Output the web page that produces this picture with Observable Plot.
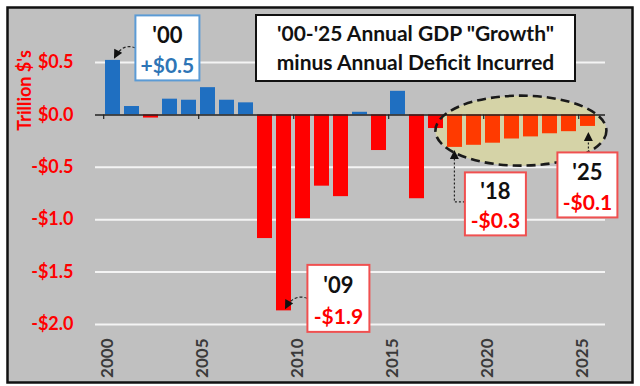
<!DOCTYPE html>
<html><head><meta charset="utf-8">
<script src="https://cdn.jsdelivr.net/npm/d3@7"></script>
<script src="https://cdn.jsdelivr.net/npm/@observablehq/plot@0.6"></script>
<style>html,body{margin:0;padding:0;background:#fff}</style>
</head><body><div id="chart"></div>
<script>
// ---- data ----
const years = [2000,2001,2002,2003,2004,2005,2006,2007,2008,2009,2010,2011,2012,2013,2014,2015,2016,2017,2018,2019,2020,2021,2022,2023,2024,2025];
const values = [0.52,0.08,-0.03,0.15,0.14,0.26,0.14,0.115,-1.18,-1.87,-0.99,-0.68,-0.78,0.025,-0.34,0.225,-0.80,-0.13,-0.31,-0.29,-0.27,-0.23,-0.21,-0.18,-0.16,-0.11];
const highlightYears = [2018,2019,2020,2021,2022,2023,2024,2025];
const yTicks = [0.5,0,-0.5,-1,-1.5,-2];
const xTickYears = [2000,2005,2010,2015,2020,2025];
const titleLines = [`'00-'25 Annual GDP "Growth"`, "minus Annual Deficit Incurred"];
const yLabel = "Trillion $'s";
const calloutYears = [2000,2009,2018,2025];
const calloutLabels = ["'00","'09","'18","'25"];
const calloutAmounts = ["+$0.5","-$1.9","-$0.3","-$0.1"];

// ---- styling ----
const BLUE = "#1f6fc1", RED = "#ff0000", ORANGE = "#ff3a00";
const PAD_INNER = 0.22, PAD_OUTER = 0.11;
const FONT = "Lato, 'Open Sans', sans-serif";
const table = years.map((year, i) => ({year, value: values[i],
  color: values[i] >= 0 ? BLUE : (highlightYears.includes(year) ? ORANGE : RED)}));
const fmt = d => (d < 0 ? "-" : "") + "$" + Math.abs(d).toFixed(1);

// callout layout (pixel offsets of box centre from the bar end)
const calloutStyle = {
  2000: {dx: 55, dy: -12, w: 64, h: 65, border: "#5b9bd5", amt: "#2e75b6", arrow: "curve"},
  2009: {dx: 55, dy: -12, w: 62, h: 67, border: "#f05050", amt: RED, arrow: "curve"},
  2018: {dx: 41, dy: 57, w: 61, h: 63, border: "#f05050", amt: RED, arrow: "elbow"},
  2025: {dx: 0, dy: 59, w: 60, h: 65, border: "#f05050", amt: RED, arrow: "up"}
};

function bandHelpers(scales) {
  const x = scales.x;
  const step = x(years[1]) - x(years[0]);
  const half = step * (1 - PAD_INNER) / 2;
  return {cx: yr => x(yr) + half, step};
}

function ellipseMark(part) {
  return (index, scales, vals, dims) => {
    const {cx} = bandHelpers(scales);
    const hv = highlightYears.map(yr => values[years.indexOf(yr)]);
    const x0 = cx(highlightYears[0]), x1 = cx(highlightYears[highlightYears.length - 1]);
    const ex = (x0 + x1) / 2, ey = scales.y(d3.min(hv) / 2);
    const g = d3.create("svg:g");
    const e = g.append("ellipse").attr("cx", ex).attr("cy", ey)
      .attr("rx", (x1 - x0) / 2 + 19).attr("ry", 35);
    if (part === "fill") e.attr("fill", "#d5d3a7").attr("stroke", "none");
    else e.attr("fill", "none").attr("stroke", "#1a1a1a").attr("stroke-width", 2.6).attr("stroke-dasharray", "9,5");
    return g.node();
  };
}

function annotations(index, scales, vals, dims) {
  const {cx} = bandHelpers(scales);
  const y = scales.y;
  const g = d3.create("svg:g").attr("font-family", FONT).attr("font-weight", "bold");
  const defs = g.append("defs");
  defs.append("marker").attr("id", "ah").attr("viewBox", "0 0 10 10")
    .attr("refX", 9).attr("refY", 5).attr("markerUnits", "userSpaceOnUse")
    .attr("markerWidth", 10).attr("markerHeight", 9).attr("orient", "auto")
    .append("path").attr("d", "M0,0 L10,5 L0,10 z").attr("fill", "#111");

  calloutYears.forEach((yr, i) => {
    const s = calloutStyle[yr];
    const v = values[years.indexOf(yr)];
    const ax = cx(yr), ay = y(v);
    const bx = ax + s.dx, by = ay + s.dy;
    const left = bx - s.w / 2, top = by - s.h / 2;
    let d;
    if (s.arrow === "curve") d = `M${left},${ay - 12} Q${ax + 10},${ay - 17} ${ax + 2},${ay - 2}`;
    else if (s.arrow === "elbow") d = `M${left},${by - 2} H${ax} V${ay + 4}`;
    else d = `M${ax + 1},${top} V${ay + 7}`;
    g.append("path").attr("d", d).attr("fill", "none").attr("stroke", "#222")
      .attr("stroke-width", 1.2).attr("stroke-dasharray", s.arrow === "curve" ? "3,2" : "2,2")
      .attr("marker-end", "url(#ah)");
    g.append("rect").attr("x", left).attr("y", top).attr("width", s.w).attr("height", s.h)
      .attr("fill", "#fff").attr("stroke", s.border).attr("stroke-width", 2);
    g.append("text").attr("x", bx).attr("y", top + s.h * 0.30).attr("dy", "0.36em")
      .attr("text-anchor", "middle").attr("font-size", 22).attr("fill", "#111").text(calloutLabels[i]);
    g.append("text").attr("x", bx).attr("y", top + s.h * 0.77).attr("dy", "0.36em")
      .attr("text-anchor", "middle").attr("font-size", 21).attr("fill", s.amt).text(calloutAmounts[i]);
  });

  // title box
  const tl = 256, tt = 15, tw = 319, th = 66;
  g.append("rect").attr("x", tl).attr("y", tt).attr("width", tw).attr("height", th)
    .attr("fill", "#fff").attr("stroke", "#111").attr("stroke-width", 2);
  titleLines.forEach((t, i) => {
    g.append("text").attr("x", tl + tw / 2).attr("y", tt + 18 + i * 29).attr("dy", "0.36em")
      .attr("text-anchor", "middle").attr("font-size", 21).attr("fill", "#111").text(t);
  });
  return g.node();
}

const stepPx = (640 - 95 - 35) / years.length;

const chart = Plot.plot({
  width: 640, height: 386,
  marginLeft: 95, marginRight: 35, marginTop: 62, marginBottom: 62,
  style: {background: "#fff", fontFamily: FONT, overflow: "visible"},
  x: {type: "band", domain: years, paddingInner: PAD_INNER, paddingOuter: PAD_OUTER, axis: null},
  y: {domain: [-2, 0.5], axis: null},
  color: {type: "identity"},
  marks: [
    Plot.frame({fill: "#c0c0c0", stroke: "#111", strokeWidth: 2.5,
      insetLeft: -88, insetRight: -27, insetTop: -55, insetBottom: -58}),
    Plot.gridY(yTicks.filter(d => d !== 0), {stroke: "#f4f4f4", strokeOpacity: 1, strokeWidth: 2}),
    ellipseMark("fill"),
    Plot.barY(table, {x: "year", y: "value", fill: "color"}),
    Plot.ruleY([0], {stroke: "#222", strokeWidth: 1.5}),
    Plot.ruleX(xTickYears, {x: d => d, y1: 0, y2: -0.045, dx: -stepPx / 2 + 0.5, stroke: "#222", strokeWidth: 1.2}),
    ellipseMark("stroke"),
    Plot.text(yTicks, {y: d => d, text: fmt, frameAnchor: "left", textAnchor: "end", dx: -22,
      fill: RED, fontWeight: "bold", fontSize: 18}),
    Plot.text(xTickYears, {x: d => d, text: d => String(d), frameAnchor: "bottom", rotate: -90,
      textAnchor: "end", dy: 14, fill: "#3a3a3a", fontWeight: "bold", fontSize: 17}),
    Plot.text([yLabel], {frameAnchor: "top-left", dx: -70, dy: 28, rotate: -90,
      textAnchor: "middle", lineAnchor: "middle",
      fill: RED, fontWeight: "bold", fontSize: 18}),
    annotations
  ]
});
document.getElementById("chart").appendChild(chart);
</script>
</body></html>
